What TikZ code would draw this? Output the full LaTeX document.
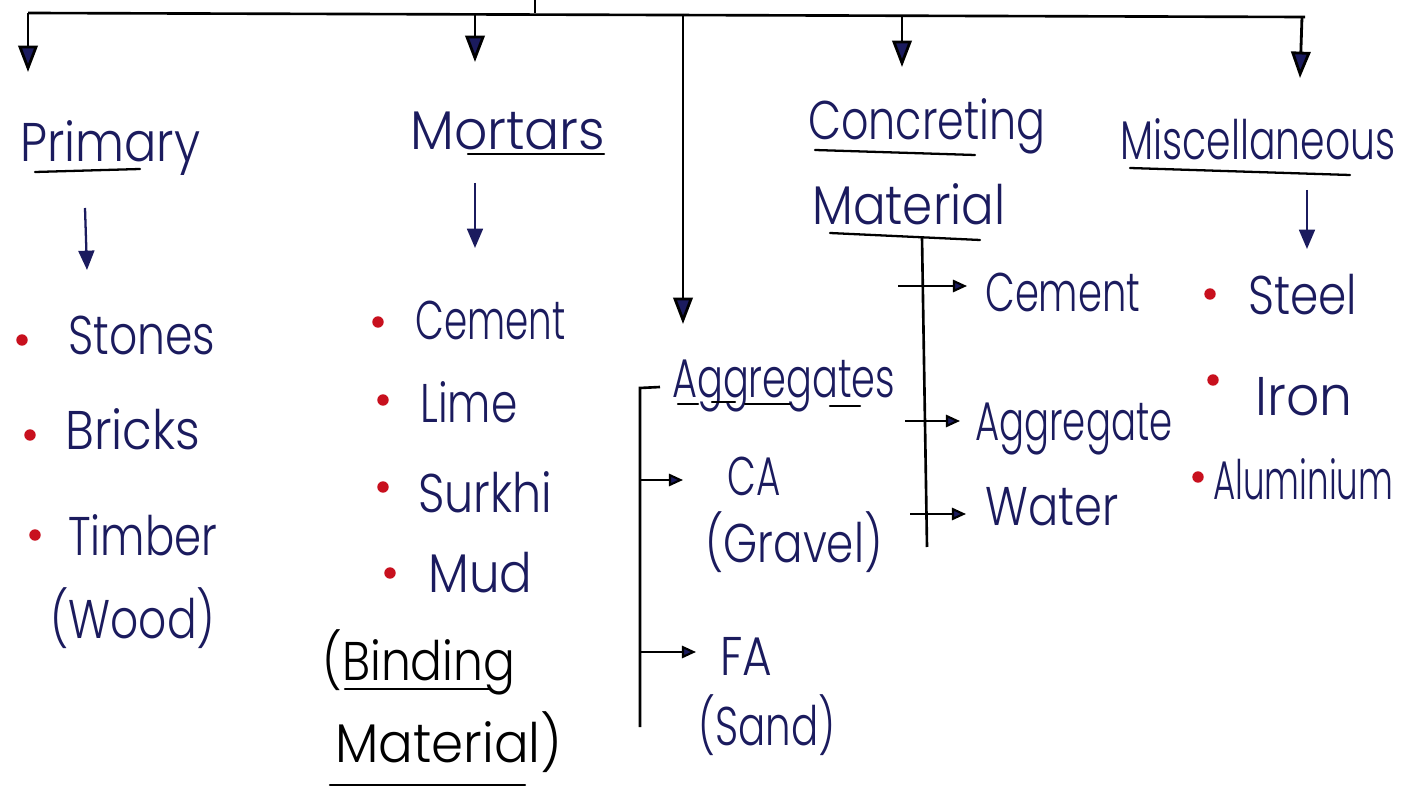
\documentclass[tikz,border=0pt]{standalone}
\usepackage{fontspec}
\setmainfont{Poppins Light}
\usetikzlibrary{arrows.meta}
\definecolor{ink}{HTML}{1B1B5E}
\definecolor{dotred}{HTML}{C8101E}
% set a word at a given width, keeping its height
\newcommand{\fw}[2]{\resizebox{#1}{\height}{#2}}
\tikzset{
  word/.style={anchor=base west, inner sep=0pt, text=ink, font=\fontsize{31}{36}\selectfont},
  bigarrow/.style={draw=black, line width=1.6pt, -{Triangle[length=15pt,width=11pt,fill=ink]}},
  midarrow/.style={draw=ink, line width=1.3pt, -{Triangle[length=11pt,width=9pt,fill=ink]}},
  sidearrow/.style={draw=black, line width=1.2pt, -{Triangle[length=8pt,width=7pt,fill=ink]}},
  rail/.style={draw=black, line width=1.5pt},
  uline/.style={draw=black, line width=1.3pt, line cap=round},
  bullet/.style={circle, fill=dotred, inner sep=0pt, minimum size=6.5pt},
}
\begin{document}
\begin{tikzpicture}[x=0.02cm, y=-0.02cm]
\useasboundingbox (0,0) rectangle (1414,787);

% ---- main bus ----
\coordinate (top) at (535,0);
\coordinate (busL) at (28,13);
\coordinate (busR) at (1305,17);
\coordinate (busT) at (535,13.5);
\draw[rail] (top) -- (busT);
\draw[rail] (busL) -- (busR);

\coordinate (b1) at (28,13);    \coordinate (e1) at (28,72);
\coordinate (b2) at (475,14);   \coordinate (e2) at (475,62);
\coordinate (b3) at (683,14);   \coordinate (e3) at (683,324);
\coordinate (b4) at (902,15);   \coordinate (e4) at (902,67);
\coordinate (b5) at (1302,17);  \coordinate (e5) at (1300,78);
\foreach \i in {1,...,5} \draw[bigarrow] (b\i) -- (e\i);

% ---- Primary ----
\node[word] (primary) at (20,162) {\fw{3.60cm}{Primary}};
\draw[uline] (35,172) -- (140,169);
\coordinate (pa1) at (85,208); \coordinate (pa2) at (87,270);
\draw[midarrow] (pa1) -- (pa2);
\node[bullet] (d1) at (22,340) {};
\node[word] (stones) at (68,355) {\fw{2.94cm}{Stones}};
\node[bullet] (d2) at (30,435) {};
\node[word] (bricks) at (65,450) {\fw{2.70cm}{Bricks}};
\node[bullet] (d3) at (35,535) {};
\node[word] (timber) at (68,555) {\fw{2.98cm}{Timber}};
\node[word] (wood) at (50,638) {\fw{3.30cm}{(Wood)}};

% ---- Mortars ----
\node[word] (mortars) at (410,150) {\fw{3.90cm}{Mortars}};
\draw[uline] (468,154) -- (604,154);
\coordinate (ma1) at (475,183); \coordinate (ma2) at (475,248);
\draw[midarrow] (ma1) -- (ma2);
\node[bullet] (d4) at (378,322) {};
\node[word] (mcement) at (415,340) {\fw{3.00cm}{Cement}};
\node[bullet] (d5) at (383,400) {};
\node[word] (lime) at (420,422) {\fw{1.94cm}{Lime}};
\node[bullet] (d6) at (383,487) {};
\node[word] (surkhi) at (418,512) {\fw{2.68cm}{Surkhi}};
\node[bullet] (d7) at (390,573) {};
\node[word] (mud) at (428,592) {\fw{2.08cm}{Mud}};
\node[word, text=black] (binding) at (322,680) {\fw{3.86cm}{(Binding}};
\draw[uline] (345,689) -- (490,689);
\node[word, text=black] (bmat) at (335,762) {\fw{4.54cm}{Material)}};
\draw[uline] (330,785) -- (525,785);

% ---- Aggregates ----
\node[word] (aggr) at (672,398) {\fw{4.46cm}{Aggregates}};
\draw[uline] (678,404) -- (698,404);
\draw[uline] (712,402) -- (735,402);
\draw[uline] (745,404) -- (790,404);
\draw[uline] (830,406) -- (860,406);
\coordinate (ag0) at (660,387);
\coordinate (agT) at (640,388);
\coordinate (agB) at (640,727);
\draw[rail] (ag0) -- (agT) -- (agB);
\coordinate (ca0) at (640,480); \coordinate (ca1) at (683,480);
\coordinate (fa0) at (640,652); \coordinate (fa1) at (696,652);
\draw[sidearrow] (ca0) -- (ca1);
\draw[sidearrow] (fa0) -- (fa1);
\node[word] (ca) at (727,495) {\fw{1.06cm}{CA}};
\node[word] (gravel) at (705,562) {\fw{3.54cm}{(Gravel)}};
\node[word] (fa) at (720,675) {\fw{1.04cm}{FA}};
\node[word] (sand) at (698,745) {\fw{2.74cm}{(Sand)}};

% ---- Concreting Material ----
\node[word] (concreting) at (808,140) {\fw{4.74cm}{Concreting}};
\draw[uline] (815,150) -- (975,155);
\node[word] (cmat) at (812,225) {\fw{3.86cm}{Material}};
\draw[uline] (830,233) -- (980,240);
\coordinate (cT) at (922,237);
\coordinate (cB) at (927,547);
\draw[rail] (cT) -- (cB);
\coordinate (cc0) at (898,286); \coordinate (cc1) at (967,286);
\coordinate (ca2) at (905,421); \coordinate (ca3) at (960,421);
\coordinate (cw0) at (910,514); \coordinate (cw1) at (966,514);
\draw[sidearrow] (cc0) -- (cc1);
\draw[sidearrow] (ca2) -- (ca3);
\draw[sidearrow] (cw0) -- (cw1);
\node[word] (ccement) at (985,312) {\fw{3.10cm}{Cement}};
\node[word] (caggr) at (975,440) {\fw{3.94cm}{Aggregate}};
\node[word] (water) at (985,525) {\fw{2.66cm}{Water}};

% ---- Miscellaneous ----
\node[word] (misc) at (1120,160) {\fw{5.50cm}{Miscellaneous}};
\draw[uline] (1130,168) -- (1350,175);
\coordinate (sa1) at (1307,190); \coordinate (sa2) at (1307,249);
\draw[midarrow] (sa1) -- (sa2);
\node[bullet] (d8) at (1210,294) {};
\node[word] (steel) at (1248,315) {\fw{2.18cm}{Steel}};
\node[bullet] (d9) at (1213,380) {};
\node[word] (iron) at (1255,415) {\fw{1.94cm}{Iron}};
\node[bullet] (d10) at (1198,477) {};
\node[word] (alum) at (1213,500) {\fw{3.60cm}{Aluminium}};
\end{tikzpicture}
\end{document}
